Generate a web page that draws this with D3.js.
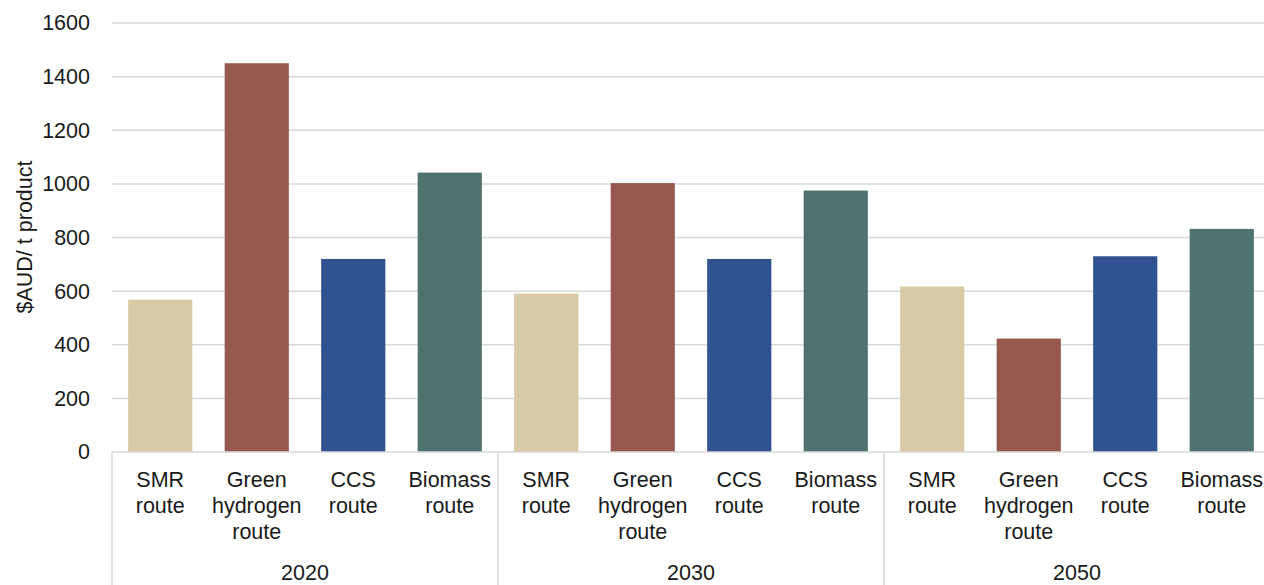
<!DOCTYPE html>
<html>
<head>
<meta charset="utf-8">
<style>
  body { margin: 0; background: #fff; }
  svg text { font-family: "Liberation Sans", Arial, sans-serif; fill: #1a1a1a; }
</style>
<script src="https://cdnjs.cloudflare.com/ajax/libs/d3/7.8.5/d3.min.js"></script>
</head>
<body>
<div id="chart"></div>
<script>
const years = ["2020", "2030", "2050"];
const routes = ["SMR route", "Green hydrogen route", "CCS route", "Biomass route"];
const routeLines = [["SMR", "route"], ["Green", "hydrogen", "route"], ["CCS", "route"], ["Biomass", "route"]];
const values2020 = [568, 1450, 720, 1042];
const values2030 = [591, 1003, 720, 975];
const values2050 = [617, 423, 730, 832];
const yTicks = [0, 200, 400, 600, 800, 1000, 1200, 1400, 1600];
const colors = ["#d8c9a7", "#975850", "#30538f", "#4e736e"];

const w = 1264, h = 585;
const padLeft = 112, padTop = 23, baseY = 452;
const fs = 21.5;
const svg = d3.select("#chart").append("svg").attr("width", w).attr("height", h);

const data = [];
[values2020, values2030, values2050].forEach((vals, gi) => {
  vals.forEach((v, ri) => data.push({ year: years[gi], route: routes[ri], ri: ri, key: years[gi] + "|" + routes[ri], value: v }));
});

const x = d3.scaleBand().domain(data.map(d => d.key)).range([padLeft, padLeft + 12 * 96.5]).paddingInner(0.335).paddingOuter(0.1675);
const y = d3.scaleLinear().domain([0, 1600]).range([baseY, padTop]);

// grid
svg.append("g").selectAll("line").data(yTicks.slice(1)).enter().append("line")
  .attr("x1", padLeft).attr("x2", w).attr("y1", d => y(d)).attr("y2", d => y(d))
  .attr("stroke", "#d9d9d9").attr("stroke-width", 1.5);

// y axis labels
const yAxis = d3.axisLeft(y).tickValues(yTicks).tickFormat(d3.format("d")).tickSize(0).tickPadding(22);
const ga = svg.append("g").attr("transform", "translate(" + padLeft + ",0)").call(yAxis);
ga.select(".domain").remove();
ga.selectAll("text").attr("font-size", fs).attr("font-family", "Liberation Sans, Arial, sans-serif").attr("fill", "#1a1a1a");

svg.append("text").attr("transform", "translate(32,237) rotate(-90)")
  .attr("text-anchor", "middle").attr("font-size", fs).text("$AUD/ t product");

// bars
svg.append("g").selectAll("rect").data(data).enter().append("rect")
  .attr("x", d => x(d.key)).attr("width", x.bandwidth())
  .attr("y", d => y(d.value)).attr("height", d => y(0) - y(d.value))
  .attr("fill", d => colors[d.ri]);

// baseline and group separators
svg.append("line").attr("x1", padLeft).attr("x2", w).attr("y1", y(0)).attr("y2", y(0))
  .attr("stroke", "#d9d9d9").attr("stroke-width", 1.5);
const step = x.step();
years.forEach((yr, gi) => {
  const gx = padLeft + gi * 4 * step;
  svg.append("line").attr("x1", gx).attr("x2", gx).attr("y1", y(0)).attr("y2", h)
    .attr("stroke", "#d9d9d9").attr("stroke-width", 1.5);
  svg.append("text").attr("x", gx + 2 * step).attr("y", 580).attr("text-anchor", "middle")
    .attr("font-size", fs).text(yr);
});

// category labels
data.forEach(d => {
  const cx = x(d.key) + x.bandwidth() / 2;
  const t = svg.append("text").attr("text-anchor", "middle").attr("font-size", fs);
  routeLines[d.ri].forEach((ln, li) => {
    t.append("tspan").attr("x", cx).attr("y", 487 + li * 26).text(ln);
  });
});
</script>
</body>
</html>
